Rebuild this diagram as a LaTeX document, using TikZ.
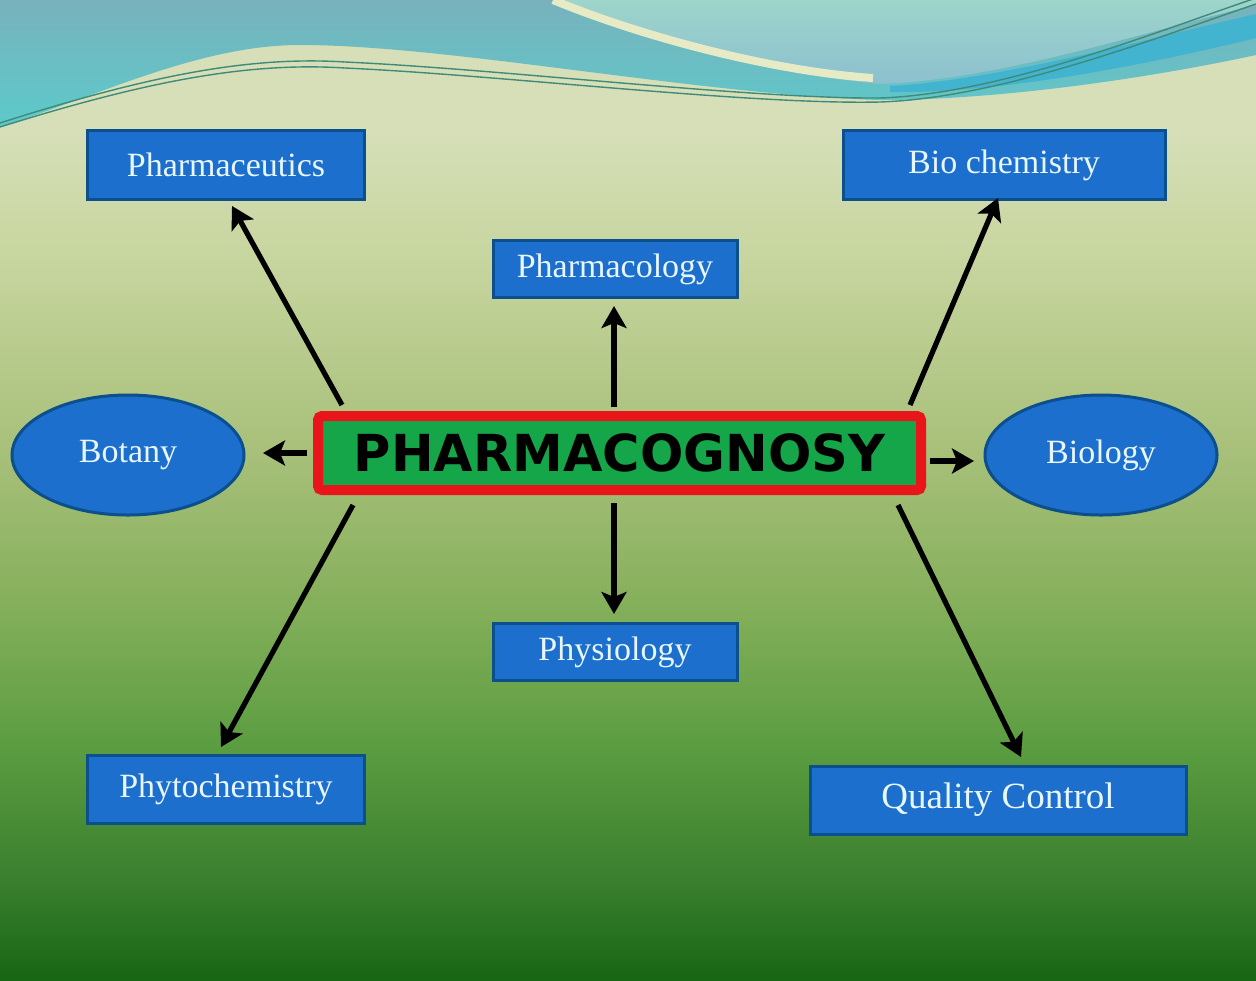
\documentclass[tikz,border=0pt]{standalone}
\usepackage{fontspec}
\setmainfont{Liberation Serif}
\newfontfamily\heavy{DejaVu Sans}
\usetikzlibrary{shapes.geometric,arrows.meta}
\definecolor{bg0}{HTML}{176614}
\definecolor{bg1}{HTML}{3A7F2E}
\definecolor{bg2}{HTML}{5A9C40}
\definecolor{bg3}{HTML}{86B05C}
\definecolor{bg4}{HTML}{A8C07A}
\definecolor{bg5}{HTML}{C8D6A0}
\definecolor{bg6}{HTML}{D6DFB8}
\pgfdeclareverticalshading{bgshade}{100bp}{color(0bp)=(bg0); color(25bp)=(bg0); color(30.1bp)=(bg1); color(36.7bp)=(bg2); color(44.4bp)=(bg3); color(52bp)=(bg4); color(62.2bp)=(bg5); color(68.4bp)=(bg6); color(75bp)=(bg6); color(100bp)=(bg6)}
\definecolor{boxblue}{HTML}{1C6FCC}
\definecolor{boxedge}{HTML}{0B4F8C}
\definecolor{txt}{HTML}{E8F6FF}
\definecolor{pcgreen}{HTML}{16A64A}
\definecolor{pcred}{HTML}{E8161A}
\definecolor{tealA}{HTML}{78B2BC}
\definecolor{tealB}{HTML}{5CCACB}
\definecolor{tealL}{HTML}{9DD5CB}
\definecolor{tealM}{HTML}{8CC0CF}
\definecolor{cream}{HTML}{E6EBC6}
\definecolor{bandblue}{HTML}{42B4CF}
\definecolor{wavegreen}{HTML}{3F8A78}
\tikzset{
  rbox/.style={rectangle, fill=boxblue, draw=boxedge, line width=1.5pt, text=txt, font=\fontsize{17}{20}\selectfont, inner sep=0pt},
  ebox/.style={ellipse, fill=boxblue, draw=boxedge, line width=1.5pt, text=txt, font=\fontsize{17}{20}\selectfont, inner sep=0pt, minimum width=116pt, minimum height=60pt},
  arr/.style={line width=2.6pt, -{Stealth[length=11pt,width=12.5pt,inset=2.5pt]}, black},
  waveline/.style={draw=wavegreen, line width=0.7pt},
}
\begin{document}
\begin{tikzpicture}[x=0.5pt,y=-0.5pt]
\useasboundingbox (0,0) rectangle (1256,980);
\shade[shading=bgshade] (0,0) rectangle (1256,980);
% waves
\shade[top color=tealA, bottom color=tealB] (0,0) -- (0,127) .. controls (100,95) and (200,45) .. (300,45) .. controls (450,45) and (700,95) .. (880,100) .. controls (1000,100) and (1150,78) .. (1256,55) -- (1256,0) -- cycle;
\shade[top color=tealL, bottom color=tealM] (553,0) .. controls (650,40) and (780,75) .. (880,84) .. controls (1000,80) and (1150,30) .. (1256,5) -- (1256,0) -- cycle;
\fill[bandblue] (890,86) .. controls (1000,80) and (1150,38) .. (1256,14) -- (1256,38) .. controls (1150,64) and (1000,94) .. (890,92) -- cycle;
\draw[cream, line width=4pt] (553,0) .. controls (650,40) and (780,72) .. (873,78);
\draw[waveline] (0,127) .. controls (150,80) and (250,62) .. (345,68) .. controls (500,75) and (750,105) .. (880,102) .. controls (1000,98) and (1150,40) .. (1256,4);
\draw[waveline] (0,123) .. controls (150,75) and (250,56) .. (345,62) .. controls (500,69) and (750,99) .. (880,98) .. controls (1000,94) and (1150,34) .. (1256,-2);
% nodes
\node[rbox, minimum width=138.5pt, minimum height=34.5pt] (pceu) at (226,165) {Pharmaceutics};
\node[rbox, minimum width=161pt, minimum height=34.5pt] (bioc) at (1004,165) {Bio chemistry};
\node[rbox, minimum width=122pt, minimum height=28.5pt] (pcol) at (615,269) {Pharmacology};
\node[rbox, minimum width=122pt, minimum height=28.5pt] (phys) at (615,652) {Physiology};
\node[rbox, minimum width=138.5pt, minimum height=34pt] (phyt) at (226,789) {Phytochemistry};
\node[rbox, minimum width=188pt, minimum height=34pt, font=\fontsize{18.5}{22}\selectfont] (qc) at (998,800) {Quality Control};
\node[ebox] (bot) at (128,455) {Botany};
\node[ebox] (bio) at (1101,455) {Biology};
\node[rectangle, rounded corners=2pt, fill=pcgreen, draw=pcred, line width=5pt, minimum width=301.5pt, minimum height=37pt, inner sep=0pt, font=\heavy\bfseries\fontsize{25.5}{28}\selectfont, text=black] (pc) at (619.5,453) {PHARMACOGNOSY};
% connector endpoints
\coordinate (t1) at (342,405); \coordinate (h1) at (232,206);
\coordinate (t2) at (614,407); \coordinate (h2) at (614,306);
\coordinate (t3) at (910,405); \coordinate (h3) at (998,198);
\coordinate (t4) at (307,453); \coordinate (h4) at (263,453);
\coordinate (t5) at (930,461); \coordinate (h5) at (974,461);
\coordinate (t6) at (353,505); \coordinate (h6) at (221,747);
\coordinate (t7) at (614,503); \coordinate (h7) at (614,614);
\coordinate (t8) at (898,505); \coordinate (h8) at (1021,757);
\draw[arr] (t1) -- (h1);
\draw[arr] (t2) -- (h2);
\draw[arr] (t3) -- (h3);
\draw[arr] (t4) -- (h4);
\draw[arr] (t5) -- (h5);
\draw[arr] (t6) -- (h6);
\draw[arr] (t7) -- (h7);
\draw[arr] (t8) -- (h8);
\end{tikzpicture}
\end{document}
